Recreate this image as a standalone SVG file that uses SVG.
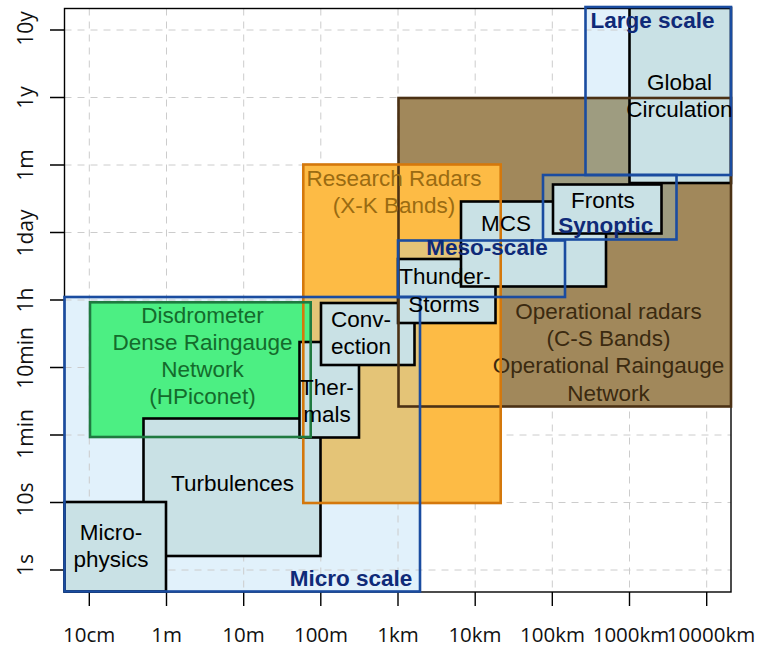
<svg xmlns="http://www.w3.org/2000/svg" width="758" height="647" viewBox="0 0 758 647">
<defs><style>
.grid{stroke:#cccccc;stroke-width:1;stroke-dasharray:7 6;fill:none}
.tick{stroke:#000;stroke-width:1.4}
.ax{font-family:"Open Sans","DejaVu Sans",sans-serif;font-size:20.5px;text-anchor:middle;fill:#111}
.ay{font-family:"Open Sans","DejaVu Sans",sans-serif;font-size:21px;text-anchor:middle;fill:#111}
.ph{fill:#c9e1e5;stroke:#000;stroke-width:2.6}
.t{font-family:"Liberation Sans",Arial,sans-serif;font-size:22.5px;text-anchor:middle;fill:#000}
.sf{fill:#e1f1fb}
.sb{fill:none;stroke:#1a4ca0;stroke-width:2.6}
.sl{font-family:"Liberation Sans",Arial,sans-serif;font-size:22.5px;font-weight:bold;text-anchor:middle;fill:#0f2a78}
.mo{fill:#e4c477}
.gg{fill:#9e9c80}
</style></defs>
<rect x="0" y="0" width="758" height="647" fill="#fff"/>
<g id="scale-fills">
<rect class="sf" x="64.5" y="297" width="355.5" height="294.5"/>
<rect class="sf" x="398" y="240.5" width="167" height="56.5"/>
<rect class="sf" x="543" y="175" width="133.5" height="64.5"/>
<rect class="sf" x="585.5" y="7" width="145.5" height="168"/>
</g>
<g id="grid">
<path class="grid" d="M89.3 8.5V592M166.5 8.5V592M243.7 8.5V592M320.8 8.5V592M398 8.5V592M475.2 8.5V592M552.3 8.5V592M629.5 8.5V592M706.7 8.5V592"/>
<path class="grid" d="M64.5 30H731M64.5 97.5H731M64.5 165H731M64.5 232.5H731M64.5 300H731M64.5 367.5H731M64.5 435H731M64.5 502.5H731M64.5 570H731"/>
</g>
<g id="axes">
<rect x="64.5" y="8.5" width="666.5" height="583.5" fill="none" stroke="#000" stroke-width="1.4"/>
<path class="tick" d="M50 30H64.5M50 97.5H64.5M50 165H64.5M50 232.5H64.5M50 300H64.5M50 367.5H64.5M50 435H64.5M50 502.5H64.5M50 570H64.5"/>
<path class="tick" d="M89.3 592V606M166.5 592V606M243.7 592V606M320.8 592V606M398 592V606M475.2 592V606M552.3 592V606M629.5 592V606M706.7 592V606"/>
<text class="ax" x="89.2" y="641.5">10cm</text>
<text class="ax" x="166.7" y="641.5">1m</text>
<text class="ax" x="243.5" y="641.5">10m</text>
<text class="ax" x="321" y="641.5">100m</text>
<text class="ax" x="398" y="641.5">1km</text>
<text class="ax" x="475" y="641.5">10km</text>
<text class="ax" x="552.5" y="641.5">100km</text>
<text class="ax" x="631" y="641.5">1000km</text>
<text class="ax" x="711" y="641.5">10000km</text>
<text class="ay" transform="translate(33 28.5) rotate(-90)">10y</text>
<text class="ay" transform="translate(33 97.5) rotate(-90)">1y</text>
<text class="ay" transform="translate(33 165) rotate(-90)">1m</text>
<text class="ay" transform="translate(33 233) rotate(-90)">1day</text>
<text class="ay" transform="translate(33 300) rotate(-90)">1h</text>
<text class="ay" transform="translate(33 358) rotate(-90)">10min</text>
<text class="ay" transform="translate(33 434) rotate(-90)">1min</text>
<text class="ay" transform="translate(33 499.5) rotate(-90)">10s</text>
<text class="ay" transform="translate(33 565) rotate(-90)">1s</text>
</g>
<g id="instrument-fills">
<rect x="398.5" y="98" width="332.5" height="308.5" fill="#a1885b"/>
<rect x="303.3" y="164.5" width="197.4" height="338.5" fill="#fdbb45"/>
<rect class="mo" x="303.3" y="297" width="116.7" height="206"/>
<rect class="mo" x="398" y="240.5" width="102.7" height="56.5"/>
<rect class="gg" x="500.7" y="240.5" width="64.3" height="56.5"/>
<rect class="gg" x="543" y="175" width="133.5" height="64.5"/>
<rect class="gg" x="585.5" y="98" width="145.5" height="77"/>
<rect x="90" y="302.3" width="220.7" height="134.7" fill="#4cef83"/>
</g>
<g id="turbulences">
<rect class="ph" x="143.5" y="418.5" width="177" height="137.5"/>
</g>
<g id="microphysics">
<rect class="ph" x="64.5" y="502" width="101.5" height="89.5"/>
</g>
<g id="thermals">
<rect class="ph" x="299.5" y="342" width="59.5" height="95.5"/>
</g>
<g id="convection">
<rect class="ph" x="321" y="303" width="93.5" height="62"/>
</g>
<g id="thunderstorms">
<rect class="ph" x="398" y="259" width="97.5" height="64"/>
</g>
<g id="mcs">
<rect class="ph" x="461" y="201.5" width="145" height="85"/>
</g>
<g id="fronts">
<rect class="ph" x="553" y="184.5" width="108.5" height="49"/>
</g>
<g id="global-circulation">
<rect class="ph" x="629.5" y="8" width="101.5" height="175"/>
</g>
<g id="operational">
<rect x="398.5" y="98" width="332.5" height="308.5" fill="none" stroke="#4b3114" stroke-width="2.6"/>
<g class="t" style="fill:#3b2a10">
<text x="608.5" y="319">Operational radars</text>
<text x="608.5" y="346">(C-S Bands)</text>
<text x="608.5" y="373">Operational Raingauge</text>
<text x="608.5" y="400.5">Network</text>
</g>
</g>
<g id="research-radars">
<rect x="303.3" y="164.5" width="197.4" height="338.5" fill="none" stroke="#d4780c" stroke-width="2.6"/>
<g class="t" style="fill:#9a6b12">
<text x="394" y="185.7">Research Radars</text>
<text x="394" y="213">(X-K Bands)</text>
</g>
</g>
<g id="disdrometer">
<rect x="90" y="302.3" width="220.7" height="134.7" fill="none" stroke="#1f7a40" stroke-width="2.6"/>
<g class="t" style="fill:#146b2c">
<text x="202.5" y="322.5">Disdrometer</text>
<text x="202.5" y="349.5">Dense Raingauge</text>
<text x="202.5" y="376.5">Network</text>
<text x="202.5" y="403.5">(HPiconet)</text>
</g>
</g>
<g id="micro-scale">
<rect class="sb" x="64.5" y="297" width="355.5" height="294.5"/>
<text class="sl" x="351" y="585.5">Micro scale</text>
</g>
<g id="meso-scale">
<rect class="sb" x="398" y="240.5" width="167" height="56.5"/>
<text class="sl" x="487" y="255">Meso-scale</text>
</g>
<g id="synoptic">
<rect class="sb" x="543" y="175" width="133.5" height="64.5"/>
<text class="sl" x="605.7" y="232.5">Synoptic</text>
</g>
<g id="large-scale">
<rect class="sb" x="585.5" y="7" width="145.5" height="168"/>
<text class="sl" x="652.5" y="28.3">Large scale</text>
</g>
<g id="phenomena-labels" class="t">
<text x="232.5" y="491">Turbulences</text>
<text x="111" y="540">Micro-</text>
<text x="111" y="567">physics</text>
<text x="327" y="395">Ther-</text>
<text x="327" y="422">mals</text>
<text x="361" y="327">Conv-</text>
<text x="361" y="353.5">ection</text>
<text x="445" y="283.5">Thunder-</text>
<text x="444" y="311.5">Storms</text>
<text x="506" y="231">MCS</text>
<text x="603" y="207.7">Fronts</text>
<text x="679.5" y="90">Global</text>
<text x="679.5" y="117">Circulation</text>
</g>
</svg>
